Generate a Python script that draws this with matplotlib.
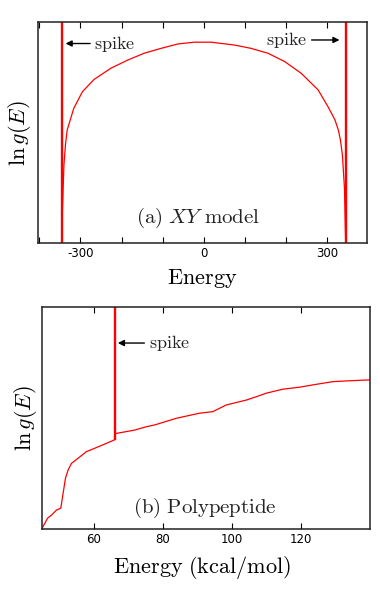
import matplotlib
matplotlib.use("Agg")
import matplotlib.pyplot as plt
from matplotlib.ticker import FixedLocator, FuncFormatter

plt.rcParams['mathtext.fontset'] = 'cm'

# ---- Panel (a): XY model ----
xy_energy = [-345, -344, -340, -336, -332, -316, -295, -267, -226, -185, -145, -104, -63,
             -23, 18, 75, 115, 156, 197, 237, 278, 302, 319, 327, 332, 337, 342, 345]
xy_lng = [0.0, 0.128, 0.354, 0.450, 0.513, 0.611, 0.686, 0.741, 0.792, 0.829, 0.860, 0.882,
          0.902, 0.910, 0.910, 0.897, 0.882, 0.860, 0.822, 0.769, 0.694, 0.618, 0.558,
          0.513, 0.470, 0.400, 0.250, 0.0]
xy_spikes = [-345, 345]
xy_ticks = [-400, -300, -200, -100, 0, 100, 200, 300, 400]
xy_ticklabels_shown = [-300, 0, 300]

# ---- Panel (b): Polypeptide ----
pp_energy = [44.95, 45.73, 46.52, 47.67, 49.12, 50.36, 51.03, 51.72, 52.48, 53.46, 55.37,
             57.80, 60.20, 63.10, 65.79, 66.0]
pp_lng = [0.005, 0.027, 0.050, 0.064, 0.087, 0.095, 0.162, 0.230, 0.267, 0.297, 0.320,
          0.350, 0.365, 0.384, 0.402, 0.405]
pp_energy2 = [66.0, 66.48, 71.78, 75.16, 77.56, 83.84, 90.58, 94.43, 98.31, 104.1, 107.0,
              109.9, 114.7, 119.5, 124.4, 129.2, 134.0, 139.8]
pp_lng2 = [0.430, 0.432, 0.447, 0.462, 0.470, 0.500, 0.523, 0.530, 0.560, 0.582, 0.597,
           0.613, 0.631, 0.640, 0.653, 0.665, 0.669, 0.673]
pp_spike = 66.0
pp_spike_base = 0.405
pp_ticks = [60, 80, 100, 120]

fig = plt.figure(figsize=(3.8, 5.93), dpi=100)
ax1 = fig.add_axes([0.100, 0.5897, 0.866, 0.3727])
ax2 = fig.add_axes([0.1113, 0.1074, 0.8624, 0.3744])

red = '#ff0000'

for ax in (ax1, ax2):
    for s in ax.spines.values():
        s.set_linewidth(1.1)
        s.set_color('#222222')
    ax.tick_params(axis='x', direction='in', top=True, length=4, width=0.8, pad=3,
                   labelsize=8.5)
    ax.tick_params(axis='y', left=False, labelleft=False)
    ax.set_yticks([])

arrow_kw = dict(arrowstyle='-|>', color='black', lw=1.0, mutation_scale=9,
                shrinkA=1, shrinkB=0)

# Panel (a)
ax1.plot(xy_energy, xy_lng, color=red, lw=0.9)
for sx in xy_spikes:
    ax1.plot([sx, sx], [0, 1.2], color=red, lw=1.7)
ax1.set_xlim(-403, 397)
ax1.set_ylim(0, 1)
ax1.xaxis.set_major_locator(FixedLocator(xy_ticks))
ax1.xaxis.set_major_formatter(FuncFormatter(
    lambda v, p: '%d' % v if int(round(v)) in xy_ticklabels_shown else ''))

ax1.annotate(r'$\mathrm{spike}$', xy=(-336, 0.904), xycoords=('data', 'axes fraction'),
             xytext=(-266, 0.904), textcoords=('data', 'axes fraction'),
             ha='left', va='center', fontsize=13, color='#222222',
             arrowprops=arrow_kw)
ax1.annotate(r'$\mathrm{spike}$', xy=(330, 0.92), xycoords=('data', 'axes fraction'),
             xytext=(252, 0.92), textcoords=('data', 'axes fraction'),
             ha='right', va='center', fontsize=13, color='#222222',
             arrowprops=arrow_kw)
ax1.text(0.485, 0.114, r'$\mathrm{(a)}\ XY\ \mathrm{model}$', transform=ax1.transAxes,
         ha='center', va='center', fontsize=15, color='#222222')
ax1.set_xlabel(r'$\mathrm{Energy}$', fontsize=16)
ax1.xaxis.set_label_coords(0.4975, -0.16)
ax1.xaxis.label.set_va('center')
ax1.set_ylabel(r'$\ln g(E)$', fontsize=16)
ax1.yaxis.set_label_coords(-0.055, 0.5)
ax1.yaxis.label.set_va('center')

# Panel (b)
ax2.plot(pp_energy, pp_lng, color=red, lw=0.9)
ax2.plot(pp_energy2, pp_lng2, color=red, lw=0.9)
ax2.plot([pp_spike, pp_spike], [pp_spike_base, 1.2], color=red, lw=1.7)
ax2.set_xlim(45, 140)
ax2.set_ylim(0, 1)
ax2.xaxis.set_major_locator(FixedLocator(pp_ticks))
ax2.annotate(r'$\mathrm{spike}$', xy=(66.9, 0.839), xycoords=('data', 'axes fraction'),
             xytext=(75.8, 0.839), textcoords=('data', 'axes fraction'),
             ha='left', va='center', fontsize=13, color='#222222',
             arrowprops=arrow_kw)
ax2.text(0.4965, 0.096, r'$\mathrm{(b)\ Polypeptide}$', transform=ax2.transAxes,
         ha='center', va='center', fontsize=15, color='#222222')
ax2.set_xlabel(r'$\mathrm{Energy\ (kcal/mol)}$', fontsize=16)
ax2.xaxis.set_label_coords(0.489, -0.17)
ax2.xaxis.label.set_va('center')
ax2.set_ylabel(r'$\ln g(E)$', fontsize=16)
ax2.yaxis.set_label_coords(-0.05, 0.5)
ax2.yaxis.label.set_va('center')

fig.savefig('out.png', dpi=100)
